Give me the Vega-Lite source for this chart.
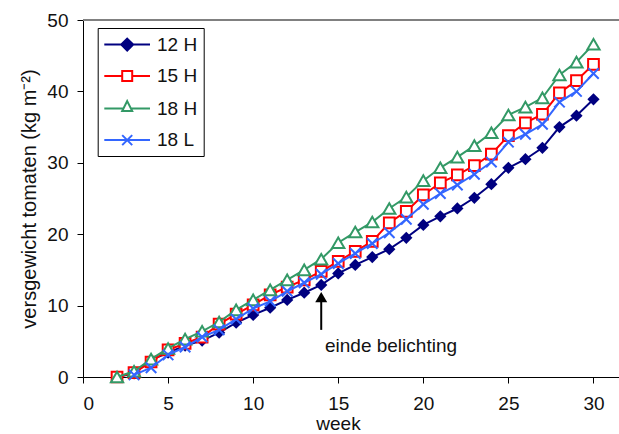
{
  "$schema": "https://vega.github.io/schema/vega-lite/v6.json",
  "width": 536,
  "height": 357,
  "autosize": {"type": "none"},
  "padding": {"left": 83, "top": 20, "right": 0, "bottom": 57},
  "background": "white",
  "layer": [
    {"data": {"name": "yield"},
      "encoding": {
        "x": {"field": "week", "type": "quantitative", "scale": {"domain": [0, 31.5], "nice": false},
          "axis": {"values": [0, 5, 10, 15, 20, 25, 30], "title": "week", "titleX": 255, "titlePadding": 1}},
        "y": {"field": "value", "type": "quantitative", "scale": {"domain": [0, 50], "nice": false},
          "axis": {"values": [0, 10, 20, 30, 40, 50], "title": "versgewicht tomaten (kg m⁻²)", "titlePadding": 7, "titleFontSize": 20}}
      },
      "layer": [
        {"transform": [{"filter": "datum.series === '12 H'"}], "mark": {"type": "line", "color": "#000080", "strokeWidth": 2}},
        {"transform": [{"filter": "datum.series === '12 H'"}], "mark": {"type": "point", "shape": "diamond", "filled": true, "color": "#000080", "size": 150, "opacity": 1}},
        {"transform": [{"filter": "datum.series === '15 H'"}], "mark": {"type": "line", "color": "#FF0000", "strokeWidth": 2}},
        {"transform": [{"filter": "datum.series === '15 H'"}], "mark": {"type": "point", "shape": "square", "filled": false, "fill": "white", "fillOpacity": 1, "stroke": "#FF0000", "strokeWidth": 2, "size": 115, "opacity": 1}},
        {"transform": [{"filter": "datum.series === '18 H'"}], "mark": {"type": "line", "color": "#339966", "strokeWidth": 2}},
        {"transform": [{"filter": "datum.series === '18 H'"}], "mark": {"type": "point", "shape": "triangle-up", "filled": false, "fill": "white", "fillOpacity": 1, "stroke": "#339966", "strokeWidth": 2, "size": 150, "opacity": 1}},
        {"transform": [{"filter": "datum.series === '18 L'"}], "mark": {"type": "line", "color": "#3366FF", "strokeWidth": 2}},
        {"transform": [{"filter": "datum.series === '18 L'"}], "mark": {"type": "point", "shape": "M-1,-1L1,1M-1,1L1,-1", "filled": false, "stroke": "#3366FF", "strokeWidth": 2, "size": 110, "opacity": 1}},
        {"mark": {"type": "point", "opacity": 0, "size": 400},
          "encoding": {
            "shape": {"field": "series", "type": "nominal", "title": null,
              "scale": {"domain": ["12 H", "15 H", "18 H", "18 L"], "range": [
                "M-1,0H3.57M1.29,-0.6L1.89,0L1.29,0.6L0.69,0Z",
                "M-1,0H0.79M1.79,0H3.57M0.79,-0.5H1.79V0.5H0.79Z",
                "M-1,0H0.915M1.665,0H3.57M1.29,-0.75L1.79,0.25H0.79Z",
                "M-1,0H3.57M0.79,-0.5L1.79,0.5M0.79,0.5L1.79,-0.5"]}},
            "stroke": {"field": "series", "type": "nominal", "title": null,
              "scale": {"domain": ["12 H", "15 H", "18 H", "18 L"], "range": ["#000080", "#FF0000", "#339966", "#3366FF"]}},
            "fill": {"field": "series", "type": "nominal", "title": null,
              "scale": {"domain": ["12 H", "15 H", "18 H", "18 L"], "range": ["#000080", "#ffffff", "#ffffff", "#ffffff"]}}
          }}
      ]
    },
    {"data": {"values": [{"label": "einde belichting", "top": 50}]},
      "layer": [
        {"mark": {"type": "rule", "color": "#808080", "strokeWidth": 2}, "encoding": {"y": {"field": "top", "type": "quantitative"}}},
        {"mark": {"type": "rule", "color": "black", "strokeWidth": 2}, "encoding": {"x": {"datum": 14, "type": "quantitative"}, "y": {"datum": 6.6, "type": "quantitative"}, "y2": {"datum": 10.6}}},
        {"mark": {"type": "point", "shape": "triangle-up", "filled": true, "color": "black", "size": 144, "opacity": 1}, "encoding": {"x": {"datum": 14, "type": "quantitative"}, "y": {"datum": 11.18, "type": "quantitative"}}},
        {"mark": {"type": "text", "font": "Liberation Sans", "fontSize": 19, "color": "#111111", "align": "center", "baseline": "alphabetic"}, "encoding": {"text": {"field": "label"}, "x": {"datum": 18.1, "type": "quantitative"}, "y": {"datum": 3.54, "type": "quantitative"}}}
      ]
    }
  ],
  "datasets": {
    "yield": [
      {"week": 2, "series": "12 H", "value": 0}, {"week": 3, "series": "12 H", "value": 0.5}, {"week": 4, "series": "12 H", "value": 2.4}, {"week": 5, "series": "12 H", "value": 3.4}, {"week": 6, "series": "12 H", "value": 4.4}, {"week": 7, "series": "12 H", "value": 5.1}, {"week": 8, "series": "12 H", "value": 6.2}, {"week": 9, "series": "12 H", "value": 7.6}, {"week": 10, "series": "12 H", "value": 8.7}, {"week": 11, "series": "12 H", "value": 9.7}, {"week": 12, "series": "12 H", "value": 10.8}, {"week": 13, "series": "12 H", "value": 11.8}, {"week": 14, "series": "12 H", "value": 12.9}, {"week": 15, "series": "12 H", "value": 14.5}, {"week": 16, "series": "12 H", "value": 15.7}, {"week": 17, "series": "12 H", "value": 16.8}, {"week": 18, "series": "12 H", "value": 17.9}, {"week": 19, "series": "12 H", "value": 19.5}, {"week": 20, "series": "12 H", "value": 21.3}, {"week": 21, "series": "12 H", "value": 22.5}, {"week": 22, "series": "12 H", "value": 23.6}, {"week": 23, "series": "12 H", "value": 25.1}, {"week": 24, "series": "12 H", "value": 27.0}, {"week": 25, "series": "12 H", "value": 29.3}, {"week": 26, "series": "12 H", "value": 30.5}, {"week": 27, "series": "12 H", "value": 32.1}, {"week": 28, "series": "12 H", "value": 35.0}, {"week": 29, "series": "12 H", "value": 36.6}, {"week": 30, "series": "12 H", "value": 38.9},
      {"week": 2, "series": "15 H", "value": 0}, {"week": 3, "series": "15 H", "value": 0.6}, {"week": 4, "series": "15 H", "value": 2.1}, {"week": 5, "series": "15 H", "value": 3.8}, {"week": 6, "series": "15 H", "value": 4.7}, {"week": 7, "series": "15 H", "value": 5.6}, {"week": 8, "series": "15 H", "value": 7.4}, {"week": 9, "series": "15 H", "value": 8.8}, {"week": 10, "series": "15 H", "value": 10.1}, {"week": 11, "series": "15 H", "value": 11.5}, {"week": 12, "series": "15 H", "value": 12.6}, {"week": 13, "series": "15 H", "value": 13.6}, {"week": 14, "series": "15 H", "value": 14.8}, {"week": 15, "series": "15 H", "value": 16.2}, {"week": 16, "series": "15 H", "value": 17.6}, {"week": 17, "series": "15 H", "value": 19.0}, {"week": 18, "series": "15 H", "value": 21.6}, {"week": 19, "series": "15 H", "value": 23.2}, {"week": 20, "series": "15 H", "value": 25.5}, {"week": 21, "series": "15 H", "value": 27.2}, {"week": 22, "series": "15 H", "value": 28.3}, {"week": 23, "series": "15 H", "value": 29.6}, {"week": 24, "series": "15 H", "value": 31.2}, {"week": 25, "series": "15 H", "value": 33.8}, {"week": 26, "series": "15 H", "value": 35.6}, {"week": 27, "series": "15 H", "value": 36.8}, {"week": 28, "series": "15 H", "value": 39.8}, {"week": 29, "series": "15 H", "value": 41.5}, {"week": 30, "series": "15 H", "value": 43.8},
      {"week": 2, "series": "18 H", "value": 0}, {"week": 3, "series": "18 H", "value": 0.8}, {"week": 4, "series": "18 H", "value": 2.5}, {"week": 5, "series": "18 H", "value": 4.0}, {"week": 6, "series": "18 H", "value": 5.3}, {"week": 7, "series": "18 H", "value": 6.4}, {"week": 8, "series": "18 H", "value": 7.7}, {"week": 9, "series": "18 H", "value": 9.4}, {"week": 10, "series": "18 H", "value": 10.8}, {"week": 11, "series": "18 H", "value": 12.2}, {"week": 12, "series": "18 H", "value": 13.6}, {"week": 13, "series": "18 H", "value": 15.0}, {"week": 14, "series": "18 H", "value": 16.5}, {"week": 15, "series": "18 H", "value": 18.8}, {"week": 16, "series": "18 H", "value": 20.3}, {"week": 17, "series": "18 H", "value": 21.7}, {"week": 18, "series": "18 H", "value": 23.6}, {"week": 19, "series": "18 H", "value": 25.2}, {"week": 20, "series": "18 H", "value": 27.5}, {"week": 21, "series": "18 H", "value": 29.3}, {"week": 22, "series": "18 H", "value": 30.8}, {"week": 23, "series": "18 H", "value": 32.4}, {"week": 24, "series": "18 H", "value": 34.2}, {"week": 25, "series": "18 H", "value": 36.7}, {"week": 26, "series": "18 H", "value": 37.8}, {"week": 27, "series": "18 H", "value": 39.1}, {"week": 28, "series": "18 H", "value": 42.3}, {"week": 29, "series": "18 H", "value": 44.1}, {"week": 30, "series": "18 H", "value": 46.6},
      {"week": 3, "series": "18 L", "value": 0.3}, {"week": 4, "series": "18 L", "value": 1.3}, {"week": 5, "series": "18 L", "value": 3.1}, {"week": 6, "series": "18 L", "value": 4.2}, {"week": 7, "series": "18 L", "value": 5.6}, {"week": 8, "series": "18 L", "value": 6.6}, {"week": 9, "series": "18 L", "value": 8.1}, {"week": 10, "series": "18 L", "value": 9.6}, {"week": 11, "series": "18 L", "value": 10.6}, {"week": 12, "series": "18 L", "value": 12.0}, {"week": 13, "series": "18 L", "value": 13.2}, {"week": 14, "series": "18 L", "value": 14.4}, {"week": 15, "series": "18 L", "value": 15.9}, {"week": 16, "series": "18 L", "value": 17.3}, {"week": 17, "series": "18 L", "value": 18.7}, {"week": 18, "series": "18 L", "value": 20.2}, {"week": 19, "series": "18 L", "value": 22.1}, {"week": 20, "series": "18 L", "value": 24.2}, {"week": 21, "series": "18 L", "value": 25.7}, {"week": 22, "series": "18 L", "value": 26.9}, {"week": 23, "series": "18 L", "value": 28.4}, {"week": 24, "series": "18 L", "value": 30.1}, {"week": 25, "series": "18 L", "value": 32.9}, {"week": 26, "series": "18 L", "value": 34.0}, {"week": 27, "series": "18 L", "value": 35.4}, {"week": 28, "series": "18 L", "value": 38.5}, {"week": 29, "series": "18 L", "value": 40.0}, {"week": 30, "series": "18 L", "value": 42.5}
    ]
  },
  "config": {
    "view": {"stroke": null},
    "font": "Liberation Sans",
    "axis": {"labelFont": "Liberation Sans", "labelFontSize": 19, "labelColor": "#111111", "titleFont": "Liberation Sans", "titleFontSize": 19, "titleFontWeight": "normal", "titleColor": "#111111", "domainColor": "black", "domainWidth": 1, "tickColor": "black", "tickSize": 6, "grid": false, "labelPadding": 11},
    "axisY": {"labelPadding": 9},
    "legend": {"orient": "none", "legendX": 14.7, "legendY": 8, "padding": 5.6, "rowPadding": 10.5, "labelFont": "Liberation Sans", "labelFontSize": 19, "labelColor": "#111111", "labelOffset": 31.7, "symbolSize": 400, "symbolStrokeWidth": 2, "symbolOpacity": 1, "strokeColor": "black", "fillColor": "white", "cornerRadius": 0}
  }
}
